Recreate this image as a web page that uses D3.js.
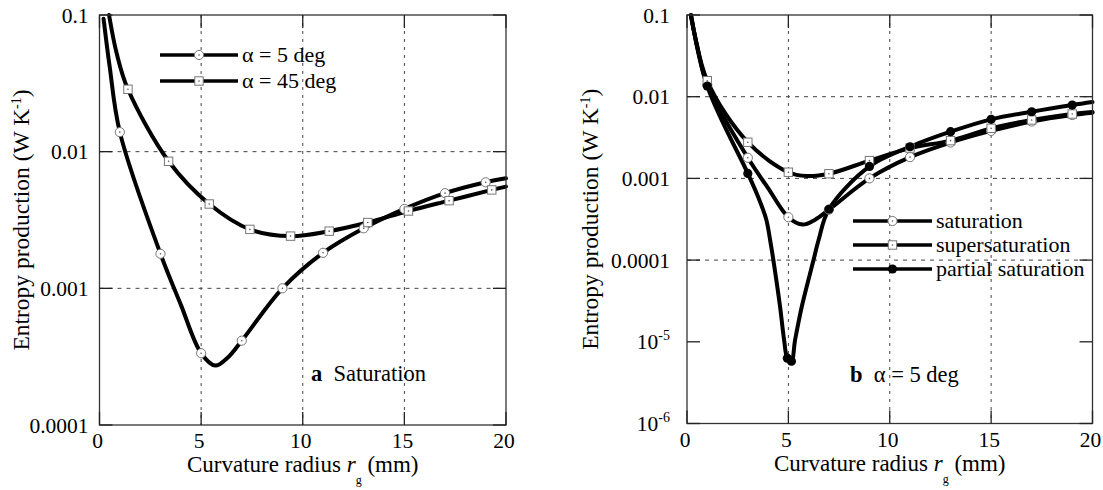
<!DOCTYPE html>
<html>
<head>
<meta charset="utf-8">
<script src="https://cdn.jsdelivr.net/npm/d3@7"></script>
<style>
  html, body { margin: 0; padding: 0; background: #fff; }
</style>
</head>
<body>
<div id="chart"></div>
<script>
// eixos
const xTicks = [0, 5, 10, 15, 20];
const xGrid = [5, 10, 15];
const yTicksA = [0.1, 0.01, 0.001, 0.0001];
const yGridA = [0.01, 0.001];
const yTicksB = [0.1, 0.01, 0.001, 0.0001, 1e-5, 1e-6];
const yGridB = [0.01, 0.001, 0.0001];

// (a) alpha = 5 deg, saturation -- same curve reused in (b)
const sat5 = [[0.2, 0.094], [0.5, 0.042], [1, 0.0139], [3, 0.00179], [4, 0.00076], [5, 0.000335],
  [5.7, 0.000272], [6.3, 0.00031], [7, 0.000414], [9, 0.001], [11, 0.00182], [13, 0.00275],
  [15, 0.00381], [17, 0.00497], [19, 0.00597], [20, 0.00638]];
const sat5Marks = [1, 3, 5, 7, 9, 11, 13, 15, 17, 19];

// (a) alpha = 45 deg
const sat45 = [[0.47, 0.1], [0.85, 0.052], [1.4, 0.0286], [3.4, 0.0085], [5.4, 0.00414], [7.4, 0.0027],
  [9.4, 0.00241], [11.3, 0.00262], [13.2, 0.00303], [15.2, 0.00368], [17.2, 0.00438],
  [19.3, 0.00525], [20, 0.00555]];
const sat45Marks = [1.4, 3.4, 5.4, 7.4, 9.4, 11.3, 13.2, 15.2, 17.2, 19.3];

// (b) supersaturation
const superSat = [[0.2, 0.1], [1, 0.0157], [3, 0.00277], [5, 0.00119], [5.9, 0.00107], [7, 0.00114],
  [9, 0.00165], [11, 0.00235], [13, 0.0029], [15, 0.0041], [17, 0.00519], [19, 0.00614], [20, 0.0065]];
const superMarks = [1, 3, 5, 7, 9, 11, 13, 15, 17, 19];

// (b) partial saturation
const partialSat = [[0.2, 0.1], [1, 0.0135], [3, 0.00115], [3.5, 0.0006], [3.9, 0.00032], [4.1, 0.000176],
  [4.26, 0.0001], [4.59, 2.69e-5], [4.79, 1.05e-5], [4.95, 6.3e-6], [5.15, 5.8e-6], [5.33, 1.05e-5],
  [5.66, 2.69e-5], [6.24, 0.0001], [6.49, 0.000176], [7, 0.000419], [9, 0.0014], [11, 0.00244],
  [13, 0.00373], [15, 0.00528], [17, 0.00654], [19, 0.0079], [20, 0.0086]];
const partialMarks = [1, 3, 4.95, 5.15, 7, 9, 11, 13, 15, 17, 19];

const legendA = ["\u03b1 = 5 deg", "\u03b1 = 45 deg"];
const legendB = ["saturation", "supersaturation", "partial saturation"];

const width = 1103, height = 490;
const svg = d3.select("#chart").append("svg")
  .attr("width", width).attr("height", height)
  .attr("viewBox", `0 0 ${width} ${height}`)
  .attr("font-family", "'Liberation Serif', 'Times New Roman', Times, 'DejaVu Serif', serif")
  .style("font-family", "'Liberation Serif', 'Times New Roman', Times, 'DejaVu Serif', serif");

const FS = 21.5;

function drawMarker(g, kind, x, y) {
  if (kind === "circle") {
    g.append("circle").attr("cx", x).attr("cy", y).attr("r", 4.6)
      .attr("fill", "#fff").attr("stroke", "#777").attr("stroke-width", 1);
    g.append("circle").attr("cx", x).attr("cy", y).attr("r", 0.8).attr("fill", "#555");
  } else if (kind === "square") {
    g.append("rect").attr("x", x - 4.2).attr("y", y - 4.2).attr("width", 8.4).attr("height", 8.4)
      .attr("fill", "#fff").attr("stroke", "#777").attr("stroke-width", 1);
    g.append("circle").attr("cx", x).attr("cy", y).attr("r", 0.8).attr("fill", "#555");
  } else {
    g.append("circle").attr("cx", x).attr("cy", y).attr("r", 4.6).attr("fill", "#000");
  }
}

function panel(p) {
  const x = d3.scaleLinear().domain([0, 20]).range([p.x0, p.x1]);
  const y = d3.scaleLog().domain(p.yDomain).range([p.y1, p.y0]);
  const g = svg.append("g");

  // grade tracejada
  g.selectAll(".vg").data(xGrid).enter().append("line")
    .attr("x1", d => x(d)).attr("x2", d => x(d)).attr("y1", p.y0).attr("y2", p.y1)
    .attr("stroke", "#444").attr("stroke-width", 1).attr("stroke-dasharray", "3,5");
  g.selectAll(".hg").data(p.yGrid).enter().append("line")
    .attr("x1", p.x0).attr("x2", p.x1).attr("y1", d => y(d)).attr("y2", d => y(d))
    .attr("stroke", "#444").attr("stroke-width", 1).attr("stroke-dasharray", "4,5");

  // curvas
  const line = d3.line().x(d => x(d[0])).y(d => y(d[1])).curve(d3.curveCatmullRom.alpha(0.5));
  p.series.forEach(s => {
    g.append("path").datum(s.data).attr("d", line)
      .attr("fill", "none").attr("stroke", "#000").attr("stroke-width", 4)
      .attr("stroke-linejoin", "round").attr("stroke-linecap", "round");
  });
  p.series.forEach(s => {
    s.marks.forEach(m => {
      const pt = s.data.find(d => d[0] === m);
      drawMarker(g, s.kind, x(pt[0]), y(pt[1]));
    });
  });

  // moldura e ticks internos
  g.append("rect").attr("x", p.x0).attr("y", p.y0).attr("width", p.x1 - p.x0).attr("height", p.y1 - p.y0)
    .attr("fill", "none").attr("stroke", "#333").attr("stroke-width", 1.3);
  const tl = 13;
  xTicks.forEach(t => {
    g.append("line").attr("x1", x(t)).attr("x2", x(t)).attr("y1", p.y1).attr("y2", p.y1 - tl)
      .attr("stroke", "#222").attr("stroke-width", 1.3);
    g.append("line").attr("x1", x(t)).attr("x2", x(t)).attr("y1", p.y0).attr("y2", p.y0 + tl)
      .attr("stroke", "#222").attr("stroke-width", 1.3);
    g.append("text").attr("x", x(t) - 2).attr("y", p.y1 + 23).attr("text-anchor", "middle")
      .style("font-size", FS + "px").text(t);
  });
  p.yTicks.forEach(t => {
    g.append("line").attr("x1", p.x0).attr("x2", p.x0 + tl).attr("y1", y(t)).attr("y2", y(t))
      .attr("stroke", "#222").attr("stroke-width", 1.3);
    g.append("line").attr("x1", p.x1).attr("x2", p.x1 - tl).attr("y1", y(t)).attr("y2", y(t))
      .attr("stroke", "#222").attr("stroke-width", 1.3);
    const lab = g.append("text").attr("x", p.x0 - p.labGap).attr("y", y(t)).attr("dy", "0.35em")
      .attr("text-anchor", "end").style("font-size", FS + "px");
    if (t >= 1e-4) {
      lab.text(String(t));
    } else {
      lab.append("tspan").text("10");
      lab.append("tspan").attr("dy", -9).style("font-size", "14px").text("-" + Math.round(-Math.log10(t)));
    }
  });

  // títulos dos eixos
  const xt = g.append("text").attr("x", (p.x0 + p.x1) / 2).attr("y", p.y1 + 47)
    .attr("text-anchor", "middle").style("font-size", "23px");
  xt.append("tspan").text("Curvature radius ");
  xt.append("tspan").style("font-style", "italic").text("r");
  xt.append("tspan").attr("dy", 12).style("font-size", "12px").text("g");
  xt.append("tspan").attr("dy", -12).text("  (mm)");

  const yt = g.append("text").attr("transform", `translate(${p.yTitleX},${(p.y0 + p.y1) / 2}) rotate(-90)`)
    .attr("text-anchor", "middle").style("font-size", "23.5px");
  yt.append("tspan").text("Entropy production (W K");
  yt.append("tspan").attr("dy", -8).style("font-size", "14px").text("-1");
  yt.append("tspan").attr("dy", 8).text(")");

  // legenda
  p.legend.forEach((name, i) => {
    const ly = p.legY[i];
    g.append("line").attr("x1", p.legX0).attr("x2", p.legX1).attr("y1", ly).attr("y2", ly)
      .attr("stroke", "#000").attr("stroke-width", 3.6);
    drawMarker(g, p.series[i].kind, (p.legX0 + p.legX1) / 2, ly);
    g.append("text").attr("x", p.legX1 + 4).attr("y", ly).attr("dy", "0.33em")
      .style("font-size", "22px").text(name);
  });

  // anotação
  const an = g.append("text").attr("x", p.annX).attr("y", p.annY).style("font-size", "22.5px");
  an.append("tspan").style("font-weight", "bold").text(p.annLetter);
  an.append("tspan").text("\u2002" + p.annText);
}

panel({
  x0: 99.5, x1: 506, y0: 15, y1: 425, yDomain: [1e-4, 0.1], yTicks: yTicksA, yGrid: yGridA,
  labGap: 11, yTitleX: 29,
  series: [
    { data: sat5, marks: sat5Marks, kind: "circle" },
    { data: sat45, marks: sat45Marks, kind: "square" }
  ],
  legend: legendA, legX0: 160, legX1: 238, legY: [55, 81],
  annX: 311, annY: 381, annLetter: "a", annText: "Saturation"
});

panel({
  x0: 687, x1: 1092.5, y0: 15, y1: 423.5, yDomain: [1e-6, 0.1], yTicks: yTicksB, yGrid: yGridB,
  labGap: 17, yTitleX: 598,
  series: [
    { data: sat5, marks: sat5Marks, kind: "circle" },
    { data: superSat, marks: superMarks, kind: "square" },
    { data: partialSat, marks: partialMarks, kind: "dot" }
  ],
  legend: legendB, legX0: 853, legX1: 932, legY: [221, 245, 269],
  annX: 850, annY: 382, annLetter: "b", annText: "\u03b1 = 5 deg"
});
</script>
</body>
</html>
